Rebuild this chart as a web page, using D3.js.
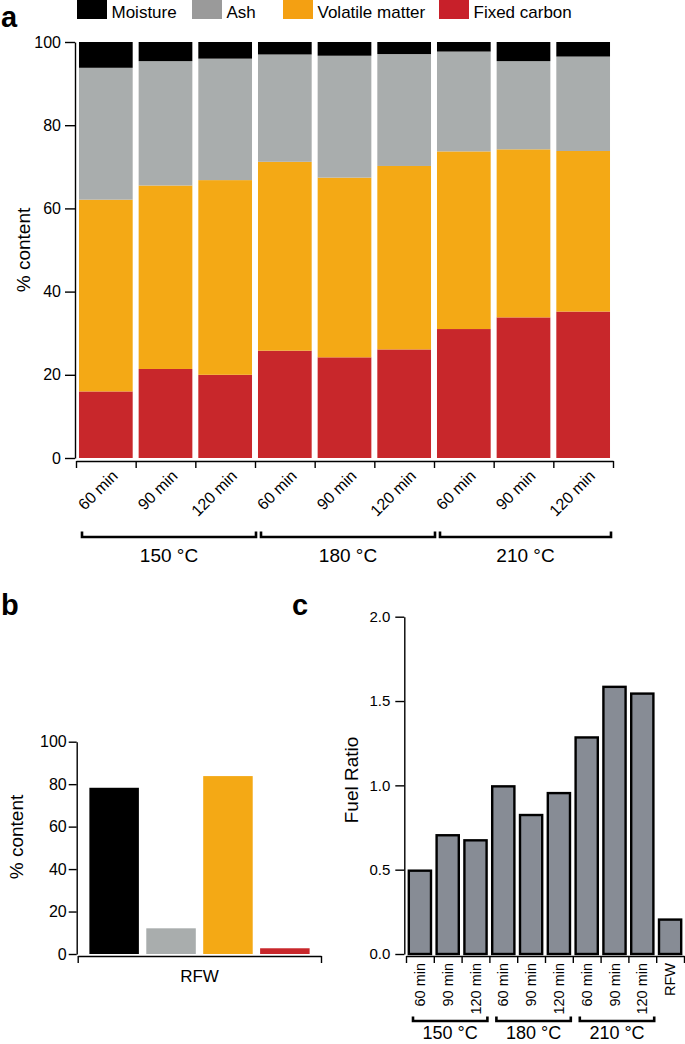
<!DOCTYPE html>
<html><head><meta charset="utf-8">
<script src="https://cdn.jsdelivr.net/npm/d3@7"></script>
<style>
html,body{margin:0;padding:0;background:#fff;}
svg{display:block;font-family:"Liberation Sans",Arial,Helvetica,sans-serif;}
</style></head>
<body>
<svg id="chart" width="685" height="1044"></svg>
<script>
// ---------- data ----------
const timeLabels = ["60 min","90 min","120 min","60 min","90 min","120 min","60 min","90 min","120 min"];
const temperatures = ["150 °C","180 °C","210 °C"];
const seriesNames = ["Moisture","Ash","Volatile matter","Fixed carbon"];
const fixedCarbon    = [16.0, 21.4, 20.0, 25.8, 24.2, 26.1, 31.0, 33.8, 35.2];
const volatileMatter = [46.1, 44.1, 46.8, 45.4, 43.2, 44.1, 42.7, 40.4, 38.6];
const ash            = [31.7, 29.9, 29.2, 25.8, 29.3, 26.9, 24.0, 21.2, 22.7];
const moisture       = [6.2, 4.6, 4.0, 3.0, 3.3, 2.9, 2.3, 4.6, 3.5];
const rfwLabel = "RFW";
const rfwValues = [78.3, 12.1, 83.8, 2.7]; // Moisture, Ash, Volatile matter, Fixed carbon
const fuelLabels = ["60 min","90 min","120 min","60 min","90 min","120 min","60 min","90 min","120 min","RFW"];
const fuelRatio = [0.50, 0.71, 0.68, 1.00, 0.83, 0.96, 1.29, 1.59, 1.55, 0.21];
const percentTicks = [0, 20, 40, 60, 80, 100];
const ratioTicks = [0, 0.5, 1.0, 1.5, 2.0];

// ---------- styles ----------
const colors = {"Moisture":"#000000","Ash":"#a9adad","Volatile matter":"#f4a915","Fixed carbon":"#c8272b"};
const legendColors = {"Moisture":"#000000","Ash":"#9a9a9a","Volatile matter":"#f4a012","Fixed carbon":"#c8202a"};

const svg = d3.select("#chart");

function styleAxis(g, sw){
  g.selectAll("path.domain").attr("stroke","#000").attr("stroke-width",sw||1.4);
  g.selectAll(".tick line").attr("stroke","#000").attr("stroke-width",sw||1.4);
  g.selectAll("text").attr("fill","#000").style("font-family","Liberation Sans, Arial, sans-serif");
}

// ---------- panel a ----------
const rows = timeLabels.map((t,i)=>({i, "Fixed carbon":fixedCarbon[i], "Volatile matter":volatileMatter[i], "Ash":ash[i], "Moisture":moisture[i]}));
const stackKeys = ["Fixed carbon","Volatile matter","Ash","Moisture"];
const stacked = d3.stack().keys(stackKeys)(rows);

const xa = d3.scaleBand().domain(d3.range(timeLabels.length)).range([76,613]).paddingInner(0.1).paddingOuter(0.05);
const ya = d3.scaleLinear().domain([0,100]).range([458,42]);

const ga = svg.append("g");
ga.selectAll("g.layer").data(stacked).join("g").attr("fill",d=>colors[d.key])
  .selectAll("rect").data(d=>d).join("rect")
  .attr("x",d=>xa(d.data.i)).attr("width",xa.bandwidth())
  .attr("y",d=>ya(d[1])).attr("height",d=>ya(d[0])-ya(d[1]));

const yAxA = ga.append("g").attr("transform","translate(75,0)")
  .call(d3.axisLeft(ya).tickValues(percentTicks).tickSize(10).tickSizeOuter(0).tickPadding(4));
yAxA.selectAll("text").style("font-size","16px");
styleAxis(yAxA);

const xbA = d3.scaleLinear().domain([0,timeLabels.length]).range([76,613]);
const xAxA = ga.append("g").attr("transform","translate(0,461)")
  .call(d3.axisBottom(xbA).tickValues(d3.range(timeLabels.length+1)).tickSize(7).tickSizeOuter(0).tickFormat(""));
styleAxis(xAxA);

ga.selectAll("text.xl").data(timeLabels).join("text")
  .attr("transform",(d,i)=>`translate(${xa(i)+xa.bandwidth()/2+13},477) rotate(-45)`)
  .attr("text-anchor","end").style("font-size","16px").text(d=>d);

// brackets a
const groupsA = temperatures.map((t,k)=>({t, x0:xbA(k*3)+6, x1:xbA(k*3+3)+1}));
groupsA.forEach((g,k)=>{
  if(k===2) g.x1 = xbA(9)-2;
  ga.append("path").attr("d",`M${g.x0},531.5V537H${g.x1}V531.5`).attr("fill","none").attr("stroke","#000").attr("stroke-width",2.6);
  ga.append("text").attr("x",(g.x0+g.x1)/2).attr("y",562).attr("text-anchor","middle").style("font-size","19px").text(g.t);
});

ga.append("text").attr("transform","translate(30,250) rotate(-90)").attr("text-anchor","middle").style("font-size","19px").text("% content");
svg.append("text").attr("x",1).attr("y",27).style("font-size","29px").style("font-weight","bold").text("a");

// legend
const legendX = [77, 192, 283, 439];
const lg = svg.append("g");
seriesNames.forEach((s,i)=>{
  lg.append("rect").attr("x",legendX[i]).attr("y",0).attr("width",30).attr("height",19).attr("fill",legendColors[s]);
  lg.append("text").attr("x",legendX[i]+34.5).attr("y",18).style("font-size","17px").text(s);
});

// ---------- panel b ----------
const xb = d3.scaleBand().domain(seriesNames).range([78,321]).paddingInner(0.13).paddingOuter(0.2);
const yb = d3.scaleLinear().domain([0,100]).range([954,741.7]);
const gb = svg.append("g");
gb.selectAll("rect").data(seriesNames).join("rect")
  .attr("x",d=>xb(d)).attr("width",xb.bandwidth())
  .attr("y",(d,i)=>yb(rfwValues[i])).attr("height",(d,i)=>yb(0)-yb(rfwValues[i]))
  .attr("fill",d=>colors[d]);
const yAxB = gb.append("g").attr("transform","translate(76.7,0)")
  .call(d3.axisLeft(yb).tickValues(percentTicks).tickSize(8).tickSizeOuter(0).tickPadding(2));
yAxB.selectAll("text").style("font-size","16px");
styleAxis(yAxB);
const xAxB = gb.append("g").attr("transform","translate(0,956)")
  .call(d3.axisBottom(d3.scaleLinear().domain([0,1]).range([77.7,321])).tickValues([0,1]).tickSize(7).tickSizeOuter(0).tickFormat(""));
styleAxis(xAxB);
gb.append("text").attr("x",199.5).attr("y",982).attr("text-anchor","middle").style("font-size","17px").text(rfwLabel);
gb.append("text").attr("transform","translate(23,837) rotate(-90)").attr("text-anchor","middle").style("font-size","19px").text("% content");
svg.append("text").attr("x",1).attr("y",615).style("font-size","29px").style("font-weight","bold").text("b");

// ---------- panel c ----------
const xc = d3.scaleBand().domain(d3.range(fuelLabels.length)).range([406,684]).paddingInner(0.13).paddingOuter(0.065);
const yc = d3.scaleLinear().domain([0,2]).range([954,616.7]);
const gc = svg.append("g");
gc.selectAll("rect").data(fuelRatio).join("rect")
  .attr("x",(d,i)=>xc(i)+1).attr("width",xc.bandwidth()-2)
  .attr("y",d=>yc(d)+1).attr("height",d=>yc(0)-yc(d)-1)
  .attr("fill","#878c95").attr("stroke","#000").attr("stroke-width",2.4);
const yAxC = gc.append("g").attr("transform","translate(404.3,0)")
  .call(d3.axisLeft(yc).tickValues(ratioTicks).tickSize(9).tickSizeOuter(0).tickPadding(5).tickFormat(d3.format(".1f")));
yAxC.selectAll("text").style("font-size","15px");
styleAxis(yAxC);
const xbC = d3.scaleLinear().domain([0,fuelLabels.length]).range([406,684]);
const xAxC = gc.append("g").attr("transform","translate(0,956)")
  .call(d3.axisBottom(xbC).tickValues(d3.range(fuelLabels.length+1)).tickSize(7).tickSizeOuter(0).tickFormat(""));
styleAxis(xAxC);
gc.selectAll("text.xl").data(fuelLabels).join("text")
  .attr("transform",(d,i)=>`translate(${xc(i)+xc.bandwidth()/2+5},963) rotate(-90)`)
  .attr("text-anchor","end").style("font-size","14.5px").text(d=>d);
temperatures.forEach((t,k)=>{
  const x0 = xbC(k*3)+7, x1 = xbC(k*3+3)-2;
  gc.append("path").attr("d",`M${x0},1016.5V1021H${x1}V1016.5`).attr("fill","none").attr("stroke","#000").attr("stroke-width",2.6);
  gc.append("text").attr("x",(x0+x1)/2).attr("y",1039).attr("text-anchor","middle").style("font-size","18px").text(t);
});
gc.append("text").attr("transform","translate(358,780) rotate(-90)").attr("text-anchor","middle").style("font-size","19px").text("Fuel Ratio");
svg.append("text").attr("x",292).attr("y",615).style("font-size","29px").style("font-weight","bold").text("c");
</script>
</body></html>
